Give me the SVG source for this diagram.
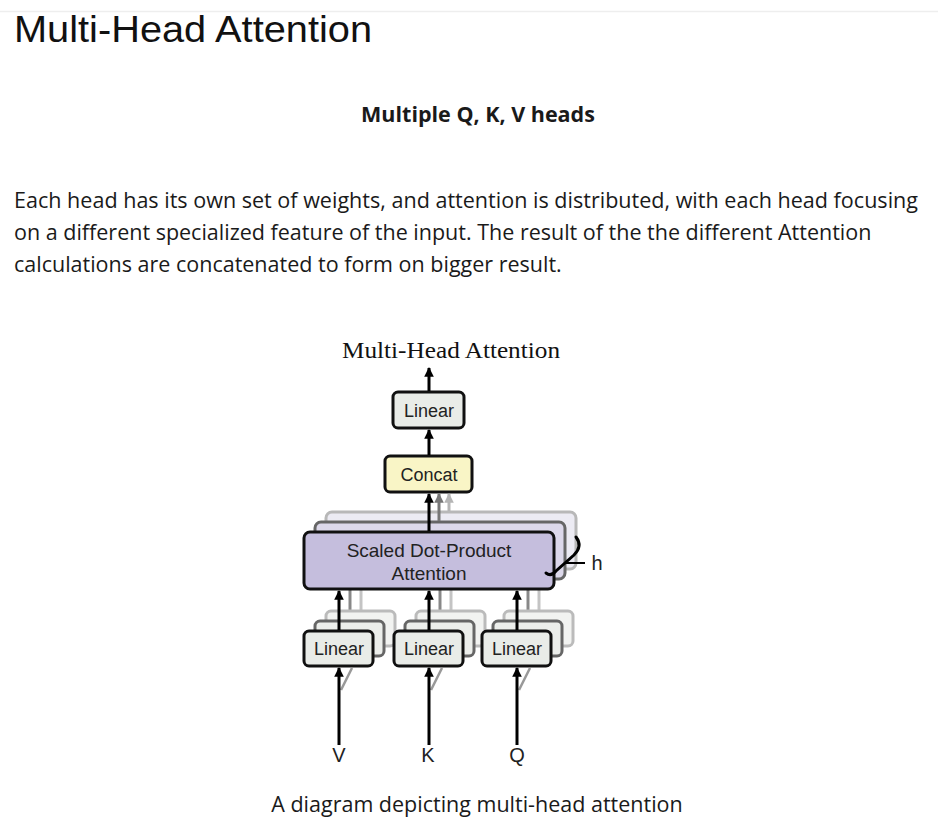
<svg xmlns="http://www.w3.org/2000/svg" width="938" height="837" viewBox="0 0 938 837">
<style>
.page{font-family:"Open Sans","Noto Sans",sans-serif;fill:#1a1a1a}
.lbl{font-family:"Liberation Sans",Arial,sans-serif;font-size:18px;fill:#222;text-anchor:middle}
.big{font-size:20px}
.mid{font-size:19px}
.box{stroke:#111;stroke-width:3}
.arr{stroke:#000;stroke-width:3;fill:none}
</style>
<defs>
<marker id="ah" viewBox="0 0 10 10" refX="9" refY="5" markerWidth="3.2" markerHeight="3.2" orient="auto" markerUnits="strokeWidth">
<path d="M0,0 L10,5 L0,10 z" fill="#000"/>
</marker>
<marker id="ahg" viewBox="0 0 10 10" refX="9" refY="5" markerWidth="3.2" markerHeight="3.2" orient="auto" markerUnits="strokeWidth">
<path d="M0,0 L10,5 L0,10 z" fill="#777"/>
</marker>
<marker id="ahl" viewBox="0 0 10 10" refX="9" refY="5" markerWidth="3.2" markerHeight="3.2" orient="auto" markerUnits="strokeWidth">
<path d="M0,0 L10,5 L0,10 z" fill="#b5b5b5"/>
</marker>
</defs>
<rect width="938" height="837" fill="#fff"/>
<line x1="0" y1="11.5" x2="938" y2="11.5" stroke="#eeeeee" stroke-width="1.5"/>
<text x="14" y="42" font-family="Liberation Sans,Arial,sans-serif" font-size="37" fill="#111" textLength="358" lengthAdjust="spacingAndGlyphs">Multi-Head Attention</text>
<text class="page" x="478" y="122" font-size="21.5" font-weight="bold" text-anchor="middle">Multiple Q, K, V heads</text>
<text class="page" x="14" y="208" font-size="21.5" textLength="904" lengthAdjust="spacingAndGlyphs">Each head has its own set of weights, and attention is distributed, with each head focusing</text>
<text class="page" x="14" y="240" font-size="21.5">on a different specialized feature of the input. The result of the the different Attention</text>
<text class="page" x="14" y="272" font-size="21.5">calculations are concatenated to form on bigger result.</text>

<text x="451" y="358" font-family="Liberation Serif,'Times New Roman',serif" font-size="23" fill="#111" text-anchor="middle" textLength="218" lengthAdjust="spacingAndGlyphs">Multi-Head Attention</text>

<g id="connectors-back">
<line x1="361" y1="610" x2="361" y2="590" stroke="#c4c4c4" stroke-width="3"/>
<line x1="350" y1="620" x2="350" y2="590" stroke="#888" stroke-width="3"/>
<line x1="451" y1="610" x2="451" y2="590" stroke="#c4c4c4" stroke-width="3"/>
<line x1="440" y1="620" x2="440" y2="590" stroke="#888" stroke-width="3"/>
<line x1="539" y1="610" x2="539" y2="590" stroke="#c4c4c4" stroke-width="3"/>
<line x1="528" y1="620" x2="528" y2="590" stroke="#888" stroke-width="3"/>
</g>

<g id="attention-stack">
<rect x="326" y="512" width="250" height="57" rx="6" fill="#ecebf3" stroke="#b8b8b8" stroke-width="3"/>
<rect x="315" y="522" width="250" height="57" rx="6" fill="#dcd8ea" stroke="#666" stroke-width="3"/>
<rect class="box" x="304" y="532" width="250" height="57" rx="6" fill="#c5bedd"/>
<text class="lbl mid" x="429" y="557">Scaled Dot-Product</text>
<text class="lbl mid" x="429" y="580">Attention</text>
</g>

<g id="linear-v">
<rect x="326" y="611" width="69" height="35" rx="5" fill="#f2f3f1" stroke="#bbb" stroke-width="3"/>
<rect x="315" y="621" width="69" height="35" rx="5" fill="#eceeeb" stroke="#666" stroke-width="3"/>
<rect class="box" x="304" y="631" width="69" height="35" rx="5" fill="#e9ece8"/>
<text class="lbl" x="339" y="655">Linear</text>
</g>
<g id="linear-k">
<rect x="416" y="611" width="69" height="35" rx="5" fill="#f2f3f1" stroke="#bbb" stroke-width="3"/>
<rect x="405" y="621" width="69" height="35" rx="5" fill="#eceeeb" stroke="#666" stroke-width="3"/>
<rect class="box" x="394" y="631" width="69" height="35" rx="5" fill="#e9ece8"/>
<text class="lbl" x="429" y="655">Linear</text>
</g>
<g id="linear-q">
<rect x="504" y="611" width="69" height="35" rx="5" fill="#f2f3f1" stroke="#bbb" stroke-width="3"/>
<rect x="493" y="621" width="69" height="35" rx="5" fill="#eceeeb" stroke="#666" stroke-width="3"/>
<rect class="box" x="482" y="631" width="69" height="35" rx="5" fill="#e9ece8"/>
<text class="lbl" x="517" y="655">Linear</text>
</g>

<g id="concat">
<rect class="box" x="385" y="456" width="87" height="36" rx="5" fill="#f9f5c6"/>
<text class="lbl" x="429" y="481">Concat</text>
</g>
<g id="linear-out">
<rect class="box" x="393" y="392" width="71" height="36" rx="5" fill="#e9ece8"/>
<text class="lbl" x="429" y="417">Linear</text>
</g>

<g id="h-brace">
<path d="M576,537 Q583,546 574,555 L556,571 Q551,577 546,573" fill="none" stroke="#000" stroke-width="3" stroke-linecap="round"/>
<line x1="566" y1="563" x2="585" y2="563" stroke="#000" stroke-width="2"/>
<text class="lbl big" x="597" y="570">h</text>
</g>

<g id="connectors">
<line class="arr" x1="429" y1="391" x2="429" y2="368" marker-end="url(#ah)"/>
<line class="arr" x1="429" y1="455" x2="429" y2="430" marker-end="url(#ah)"/>
<line x1="449" y1="511" x2="449" y2="494" stroke="#b5b5b5" stroke-width="3" marker-end="url(#ahl)"/>
<line x1="439" y1="521" x2="439" y2="494" stroke="#777" stroke-width="3" marker-end="url(#ahg)"/>
<line class="arr" x1="429" y1="531" x2="429" y2="494" marker-end="url(#ah)"/>

<line class="arr" x1="339" y1="630" x2="339" y2="591" marker-end="url(#ah)"/>
<line class="arr" x1="429" y1="630" x2="429" y2="591" marker-end="url(#ah)"/>
<line class="arr" x1="517" y1="630" x2="517" y2="591" marker-end="url(#ah)"/>

<line x1="341" y1="690" x2="352" y2="668" stroke="#999" stroke-width="2.5"/>
<line x1="431" y1="690" x2="442" y2="668" stroke="#999" stroke-width="2.5"/>
<line x1="519" y1="690" x2="530" y2="668" stroke="#999" stroke-width="2.5"/>
<line class="arr" x1="339" y1="745" x2="339" y2="668" marker-end="url(#ah)"/>
<line class="arr" x1="429" y1="745" x2="429" y2="668" marker-end="url(#ah)"/>
<line class="arr" x1="517" y1="745" x2="517" y2="668" marker-end="url(#ah)"/>
</g>

<text class="lbl big" x="339" y="762">V</text>
<text class="lbl big" x="428" y="762">K</text>
<text class="lbl big" x="517" y="762">Q</text>

<text class="page" x="477" y="812" font-size="21.5" text-anchor="middle">A diagram depicting multi-head attention</text>
</svg>
